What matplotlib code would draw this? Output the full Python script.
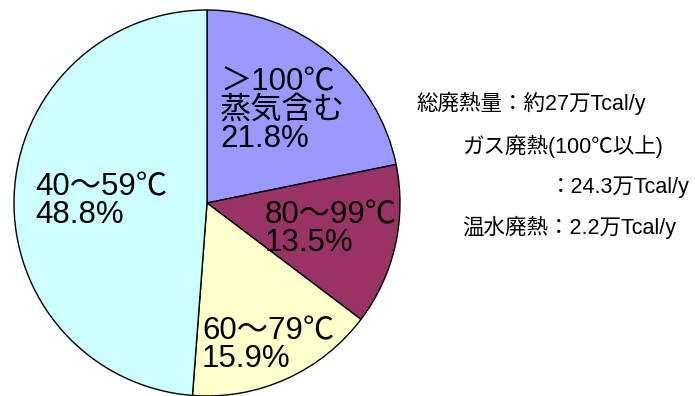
import matplotlib.pyplot as plt

plt.rcParams['font.family'] = ['Liberation Sans', 'Noto Sans CJK JP', 'DejaVu Sans']

# 温度帯別の廃熱割合
labels = ['＞100℃\n蒸気含む', '80～99℃', '60～79℃', '40～59℃']
shares = [21.8, 13.5, 15.9, 48.8]
colors = ['#9999FF', '#993366', '#FFFFCC', '#CCFFFF']

notes = ['総廃熱量：約27万Tcal/y',
         'ガス廃熱(100℃以上)',
         '：24.3万Tcal/y',
         '温水廃熱：2.2万Tcal/y']

W, H = 695, 396
cx, cy, r = 207, 203, 193   # pie centre / radius in pixels


def d(px, py):
    # pixel -> data coords (radius = 1)
    return (px - cx) / r, (cy - py) / r


fig = plt.figure(figsize=(W / 100, H / 100), dpi=100)
ax = fig.add_axes([0, 0, 1, 1])
ax.pie(shares, colors=colors, startangle=90, counterclock=False, radius=1,
       wedgeprops=dict(edgecolor='black', linewidth=1.0))
ax.set_xlim(-cx / r, (W - cx) / r)
ax.set_ylim(-(H - cy) / r, cy / r)
ax.axis('off')

# label positions (left edge, vertical centre) in pixels
label_pos = [(220, 111), (265, 229), (202, 345), (35, 201)]
for lab, v, (px, py) in zip(labels, shares, label_pos):
    x, y = d(px, py)
    ax.text(x, y, f'{lab}\n{v}%', ha='left', va='center', fontsize=22.5,
            linespacing=0.92, color='black')

note_pos = [(416, 103), (462, 146), (550, 187), (462, 227)]
for t, (px, py) in zip(notes, note_pos):
    x, y = d(px, py)
    ax.text(x, y, t, ha='left', va='center', fontsize=15.5, color='black')

fig.savefig('out.png', dpi=100)
